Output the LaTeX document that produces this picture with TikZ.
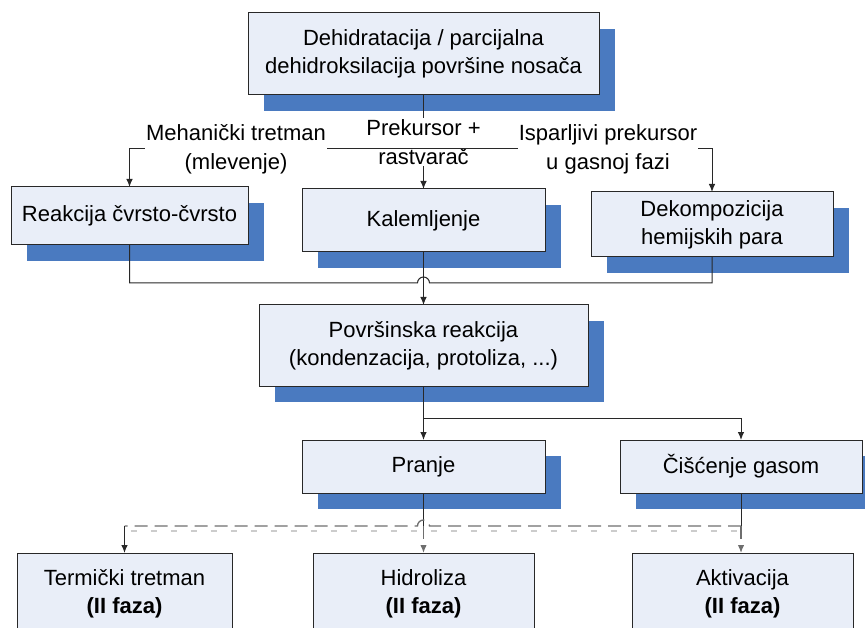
\documentclass[tikz,border=0pt]{standalone}
\usepackage{fontspec}
\setmainfont{Liberation Sans}
\usetikzlibrary{arrows.meta,shadows}
\definecolor{boxfill}{RGB}{233,238,248}
\definecolor{shadowblue}{RGB}{74,122,192}
\definecolor{linegray}{RGB}{40,40,40}
\definecolor{dashgray}{RGB}{110,110,110}
\begin{document}
\begin{tikzpicture}[x=1pt,y=-1pt,
  every node/.style={font=\fontsize{22}{28}\selectfont, align=center},
  box/.style={draw=linegray, line width=1pt, fill=boxfill, inner sep=0pt, outer sep=0pt},
  shadowed/.style={general shadow={fill=shadowblue, shadow xshift=16pt, shadow yshift=-16pt}},
  conn/.style={draw=linegray, line width=1pt},
  dashconn/.style={draw=dashgray, line width=1.3pt, dash pattern=on 13pt off 7pt},
  tip/.style={-{Latex[length=8pt,width=6.5pt]}},
  lbl/.style={fill=white, inner sep=1pt, font=\fontsize{22}{29}\selectfont}]

\useasboundingbox (0,0) rectangle (865,628);
\clip (0,0) rectangle (865,628);

% process boxes
\node[box, shadowed, minimum width=351pt, minimum height=82pt] (top) at (423.5,54)
  {Dehidratacija / parcijalna\\dehidroksilacija površine nosača};
\node[box, shadowed, minimum width=237pt, minimum height=58pt] (reak) at (129.5,216)
  {Reakcija čvrsto-čvrsto};
\node[box, shadowed, minimum width=243pt, minimum height=63pt] (kal) at (423.5,220.5)
  {Kalemljenje};
\node[box, shadowed, minimum width=242pt, minimum height=65pt] (dek) at (712,224.5)
  {Dekompozicija\\hemijskih para};
\node[box, shadowed, minimum width=329pt, minimum height=81pt] (pov) at (423.5,345.5)
  {Površinska reakcija\\(kondenzacija, protoliza, ...)};
\node[box, shadowed, minimum width=243pt, minimum height=53pt] (pranje) at (423.5,466.5)
  {Pranje};
\node[box, shadowed, minimum width=242pt, minimum height=53pt] (cisc) at (741,466.5)
  {Čišćenje gasom};
\node[box, minimum width=215pt, minimum height=81pt] (term) at (124.5,593.5)
  {Termički tretman\\\textbf{(II faza)}};
\node[box, minimum width=221pt, minimum height=81pt] (hidro) at (423.5,593.5)
  {Hidroliza\\\textbf{(II faza)}};
\node[box, minimum width=221pt, minimum height=81pt] (akt) at (742.5,593.5)
  {Aktivacija\\\textbf{(II faza)}};

% branching from the support treatment
\coordinate (j1) at (423.5,149);
\draw[conn, tip] (top.south) -- (kal.north);
\node[lbl] (prek) at (423.5,142) {Prekursor +\\rastvarač};
\draw[conn, tip] (j1) -| (reak.north);
\draw[conn, tip] (j1) -| (dek.north);
\node[lbl] (meh) at (236,149) {Mehanički tretman\\(mlevenje)};
\node[lbl] (isp) at (608,149) {Isparljivi prekursor\\u gasnoj fazi};

% merging into the surface reaction
\coordinate (m1) at (423.5,283);
\draw[conn] (reak.south) |- ([xshift=-6pt]m1)
  arc[start angle=180, end angle=0, radius=6pt] -| (dek.south);
\draw[conn, tip] (kal.south) -- (pov.north);

% washing / gas cleaning
\coordinate (m2) at (423.5,418);
\draw[conn, tip] (pov.south) -- (pranje.north);
\draw[conn, tip] (m2) -| (cisc.north);

% second phase
\coordinate (d1) at (741,526);
\coordinate (d2) at (423.5,526);
\coordinate (d3) at (124.5,526);
\draw[dashgray!35, line width=1.3pt, dash pattern=on 6pt off 14pt]
  ([xshift=6pt,yshift=-5pt]d3) -- ([xshift=-4pt,yshift=-5pt]d1);
\draw[conn] (cisc.south) -- (d1);
\draw[conn] (pranje.south) -- (d2);
\draw[dashconn] (d1) -- ([xshift=6pt]d2)
  arc[start angle=0, end angle=180, radius=6pt] -- (d3);
\draw[dashconn, tip] (d1) -- (d1 |- akt.north);
\draw[dashconn, tip] (d2) -- (hidro.north);
\draw[conn, tip] (d3) -- (term.north);
\end{tikzpicture}
\end{document}
